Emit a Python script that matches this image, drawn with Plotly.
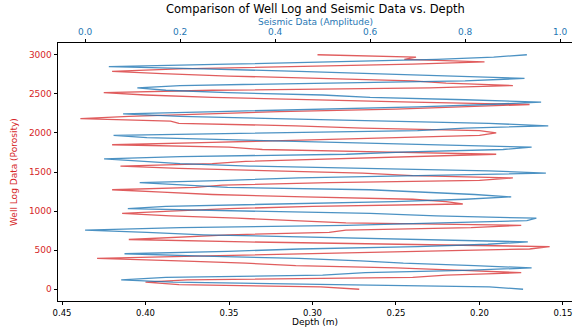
import plotly.graph_objects as go

# Depth samples (m)
depth = [3000 * i / 99 for i in range(100)]

# Well log porosity (bottom axis, reversed), depth 0 -> 3000
porosity = [
    0.272, 0.295, 0.380, 0.400, 0.375, 0.240, 0.220, 0.175, 0.210, 0.250,
    0.310, 0.340, 0.380, 0.429, 0.370, 0.300, 0.240, 0.170, 0.158, 0.265,
    0.340, 0.410, 0.380, 0.350, 0.290, 0.280, 0.205, 0.175, 0.280, 0.310,
    0.345, 0.385, 0.414, 0.385, 0.350, 0.300, 0.210, 0.220, 0.240, 0.305,
    0.360, 0.390, 0.420, 0.370, 0.354, 0.290, 0.200, 0.180, 0.240, 0.270,
    0.326, 0.380, 0.415, 0.360, 0.340, 0.290, 0.250, 0.190, 0.260, 0.330,
    0.350, 0.420, 0.360, 0.300, 0.250, 0.200, 0.190, 0.200, 0.270, 0.310,
    0.380, 0.385, 0.439, 0.410, 0.368, 0.320, 0.250, 0.210, 0.170, 0.240,
    0.300, 0.360, 0.400, 0.425, 0.360, 0.230, 0.180, 0.220, 0.240, 0.300,
    0.350, 0.390, 0.420, 0.380, 0.310, 0.240, 0.197, 0.245, 0.238, 0.297,
]

# Seismic amplitude (top axis), depth 0 -> 3000
seismic = [
    0.922, 0.851, 0.528, 0.185, 0.076, 0.170, 0.500, 0.590, 0.800, 0.940,
    0.820, 0.670, 0.580, 0.450, 0.250, 0.083, 0.300, 0.451, 0.700, 0.848,
    0.932, 0.700, 0.500, 0.250, 0.130, 0.000, 0.200, 0.550, 0.750, 0.930,
    0.950, 0.739, 0.600, 0.300, 0.090, 0.170, 0.450, 0.650, 0.800, 0.897,
    0.820, 0.700, 0.600, 0.300, 0.200, 0.115, 0.300, 0.450, 0.700, 0.970,
    0.850, 0.600, 0.346, 0.200, 0.120, 0.040, 0.200, 0.550, 0.680, 0.880,
    0.940, 0.730, 0.500, 0.350, 0.130, 0.060, 0.350, 0.700, 0.800, 0.975,
    0.850, 0.600, 0.400, 0.200, 0.080, 0.280, 0.500, 0.700, 0.850, 0.960,
    0.800, 0.600, 0.500, 0.300, 0.170, 0.110, 0.200, 0.500, 0.800, 0.925,
    0.780, 0.600, 0.450, 0.250, 0.050, 0.300, 0.550, 0.740, 0.860, 0.930,
]

x_ticks = [0.45, 0.40, 0.35, 0.30, 0.25, 0.20, 0.15]
x2_ticks = [0.0, 0.2, 0.4, 0.6, 0.8, 1.0]
y_ticks = [0, 500, 1000, 1500, 2000, 2500, 3000]

RED = "#d62728"
BLUE = "#1f77b4"
FONT = "DejaVu Sans"

fig = go.Figure()
fig.add_trace(go.Scatter(
    x=porosity, y=depth, mode="lines", xaxis="x", yaxis="y",
    line=dict(color="rgba(214,39,40,0.75)", width=1.3),
    name="Well Log", showlegend=False,
))
fig.add_trace(go.Scatter(
    x=seismic, y=depth, mode="lines", xaxis="x2", yaxis="y",
    line=dict(color="rgba(31,119,180,0.8)", width=1.3),
    name="Seismic", showlegend=False,
))

axis_common = dict(
    showgrid=False, zeroline=False, showline=True, linecolor="black",
    linewidth=0.8, ticks="outside", ticklen=3.5, tickwidth=0.8,
    tickcolor="black", ticklabeloverflow="allow",
)

fig.update_layout(
    width=573, height=329,
    margin=dict(l=58, r=1, t=43, b=28),
    paper_bgcolor="white", plot_bgcolor="white",
    font=dict(family=FONT, size=9, color="black"),
    xaxis=dict(
        range=[0.4524, 0.1446], tickvals=x_ticks,
        ticktext=[f"{v:.2f}" for v in x_ticks],
        tickfont=dict(size=8.5, color="black"), mirror=False,
        automargin=False, **axis_common,
    ),
    xaxis2=dict(
        range=[-0.057, 1.025], overlaying="x", side="top",
        tickvals=x2_ticks, ticktext=[f"{v:.1f}" for v in x2_ticks],
        tickfont=dict(size=9, color=BLUE), automargin=False,
        **axis_common,
    ),
    yaxis=dict(
        range=[-150, 3150], tickvals=y_ticks,
        ticktext=[str(v) for v in y_ticks],
        tickfont=dict(size=9, color=RED), automargin=False,
        **axis_common,
    ),
    annotations=[
        dict(text="Comparison of Well Log and Seismic Data vs. Depth",
             xref="paper", yref="paper", x=0.5, y=1.131, showarrow=False,
             xanchor="center", yanchor="middle",
             font=dict(size=11.5, color="black", family=FONT)),
        dict(text="Seismic Data (Amplitude)",
             xref="paper", yref="paper", x=0.5, y=1.081, showarrow=False,
             xanchor="center", yanchor="middle",
             font=dict(size=9, color=BLUE, family=FONT)),
        dict(text="Depth (m)",
             xref="paper", yref="paper", x=0.5, y=-0.0814, showarrow=False,
             xanchor="center", yanchor="middle",
             font=dict(size=9, color="black", family=FONT)),
        dict(text="Well Log Data (Porosity)",
             xref="paper", yref="paper", x=-0.0856, y=0.5, showarrow=False,
             xanchor="center", yanchor="middle", textangle=-90,
             font=dict(size=9, color=RED, family=FONT)),
    ],
)

fig.write_html(
    "out.html",
    config={"displayModeBar": False},
    post_script="document.body.style.margin='0';document.body.style.overflow='hidden';",
)
